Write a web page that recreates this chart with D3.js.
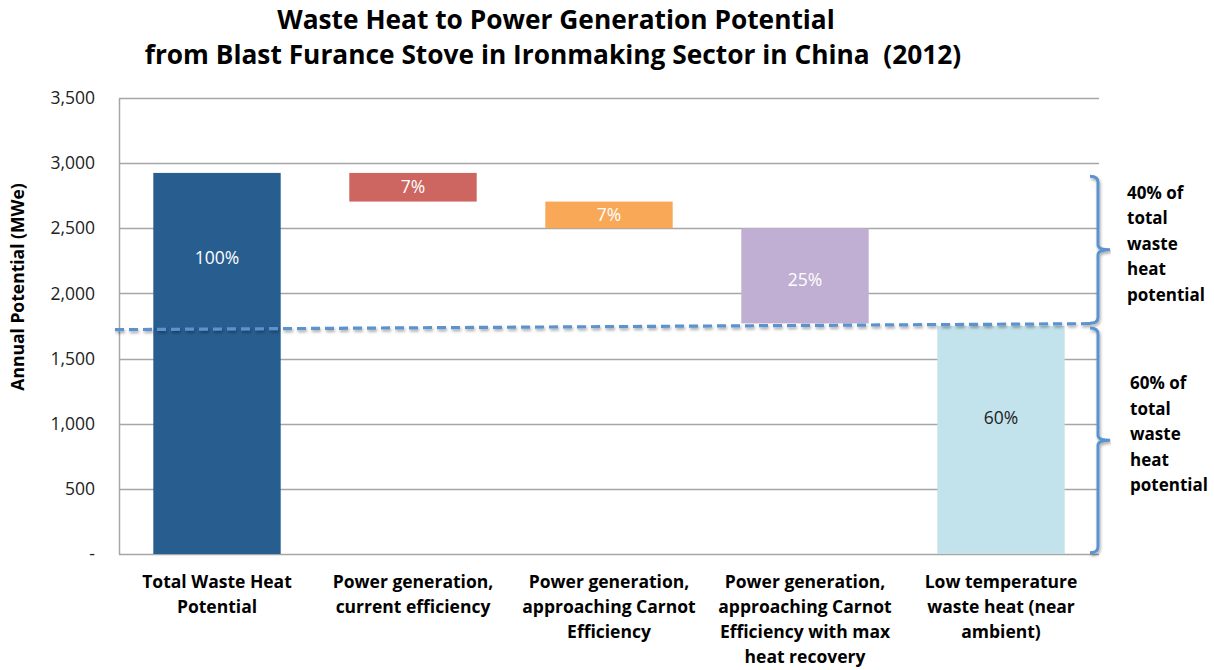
<!DOCTYPE html>
<html>
<head>
<meta charset="utf-8">
<script src="https://cdn.jsdelivr.net/npm/d3@7"></script>
<style>
  body { margin: 0; background: #fff; }
  svg { display: block; font-family: "Open Sans", Lato, sans-serif; }
</style>
</head>
<body>
<svg id="chart" width="1214" height="670"></svg>
<script>
// data
const categories = [
  ["Total Waste Heat", "Potential"],
  ["Power generation,", "current efficiency"],
  ["Power generation,", "approaching Carnot", "Efficiency"],
  ["Power generation,", "approaching Carnot", "Efficiency with max", "heat recovery"],
  ["Low temperature", "waste heat (near", "ambient)"]
];
const barBottoms = [0, 2705, 2500, 1770, 0];
const barTops = [2925, 2925, 2705, 2500, 1750];
const barLabels = ["100%", "7%", "7%", "25%", "60%"];
const labelValues = [2270, 2820, 2600, 2105, 1045];   // where the % label sits
const barColors = ["#285d8f", "#cd6660", "#f9a857", "#c0afd2", "#c3e3ec"];
const labelColors = ["#fff", "#fff", "#fff", "#fff", "#222"];
const yTicks = [0, 500, 1000, 1500, 2000, 2500, 3000, 3500];
const dashLine = [1722, 1768];            // left / right value of dashed divider
const braceSpans = [[1772, 2900], [10, 1735]];
const braceTexts = [
  ["40% of", "total", "waste", "heat", "potential"],
  ["60% of", "total", "waste", "heat", "potential"]
];

const margin = { left: 119, right: 115, top: 98, bottom: 116 };
const W = 1214, H = 670;

const svg = d3.select("#chart");

const x = d3.scaleBand()
  .domain(d3.range(categories.length))
  .range([margin.left, W - margin.right])
  .paddingInner(0.35)
  .paddingOuter(0.175);

const y = d3.scaleLinear()
  .domain([0, 3500])
  .range([H - margin.bottom, margin.top]);

// titulok
const title = svg.append("text")
  .attr("text-anchor", "middle")
  .attr("font-weight", "bold")
  .attr("font-size", 26.3)
  .style("white-space", "pre")
  .attr("fill", "#000");
title.append("tspan").attr("x", 556).attr("y", 29).text("Waste Heat to Power Generation Potential");
title.append("tspan").attr("x", 553).attr("y", 64).text("from Blast Furance Stove in Ironmaking Sector in China  (2012)");

// mriežka
svg.append("g")
  .selectAll("line")
  .data(yTicks)
  .join("line")
  .attr("x1", margin.left)
  .attr("x2", W - margin.right)
  .attr("y1", d => Math.round(y(d)) + 0.5)
  .attr("y2", d => Math.round(y(d)) + 0.5)
  .attr("stroke", "#a6a6a6")
  .attr("stroke-width", 1.3);

// os Y
const yAxis = d3.axisLeft(y)
  .tickValues(yTicks)
  .tickSize(0)
  .tickPadding(24)
  .tickFormat(d => d === 0 ? "-" : d3.format(",")(d));

svg.append("g")
  .attr("transform", `translate(${margin.left},0)`)
  .call(yAxis)
  .call(g => g.select(".domain").attr("stroke", "#a6a6a6").attr("stroke-width", 1.5))
  .call(g => g.selectAll("text")
    .attr("font-size", 17.5)
    .attr("font-family", "'Open Sans', Lato, sans-serif")
    .attr("fill", "#222"));

svg.append("text")
  .attr("transform", `translate(24,287) rotate(-90)`)
  .attr("text-anchor", "middle")
  .attr("font-weight", "bold")
  .attr("font-size", 17.5)
  .text("Annual Potential (MWe)");

// stĺpce
svg.append("g")
  .selectAll("rect")
  .data(d3.range(categories.length))
  .join("rect")
  .attr("x", i => x(i))
  .attr("width", x.bandwidth())
  .attr("y", i => y(barTops[i]))
  .attr("height", i => y(barBottoms[i]) - y(barTops[i]))
  .attr("fill", i => barColors[i]);

svg.append("g")
  .selectAll("text")
  .data(d3.range(categories.length))
  .join("text")
  .attr("x", i => x(i) + x.bandwidth() / 2)
  .attr("y", i => y(labelValues[i]) + 6)
  .attr("text-anchor", "middle")
  .attr("font-size", 17.5)
  .attr("fill", i => labelColors[i])
  .text(i => barLabels[i]);

// popisy kategórií
const xl = svg.append("g")
  .selectAll("text")
  .data(d3.range(categories.length))
  .join("text")
  .attr("text-anchor", "middle")
  .attr("font-weight", "bold")
  .attr("font-size", 17.5)
  .attr("fill", "#000");

xl.selectAll("tspan")
  .data(i => categories[i].map(t => ({ i, t })))
  .join("tspan")
  .attr("x", d => x(d.i) + x.bandwidth() / 2)
  .attr("y", (d, k) => 588 + k * 25)
  .text(d => d.t);

// prerušovaná deliaca čiara s tieňom
const defs = svg.append("defs");
const f = defs.append("filter").attr("id", "shadow").attr("x", "-5%").attr("y", "-200%").attr("width", "110%").attr("height", "500%");
f.append("feDropShadow").attr("dx", 1).attr("dy", 2).attr("stdDeviation", 1.5).attr("flood-color", "#000").attr("flood-opacity", 0.35);

svg.append("line")
  .attr("x1", margin.left - 4)
  .attr("x2", W - margin.right - 4)
  .attr("y1", y(dashLine[0]))
  .attr("y2", y(dashLine[1]))
  .attr("stroke", "#5b93cf")
  .attr("stroke-width", 3.2)
  .attr("stroke-dasharray", "9,5")
  .attr("filter", "url(#shadow)");

// zložené zátvorky
const bx = W - margin.right - 1;
function bracePath(v0, v1) {
  const yt = y(v1), yb = y(v0), ym = (yt + yb) / 2;
  return `M${bx - 8},${yt} Q${bx},${yt} ${bx},${yt + 6} L${bx},${ym - 5} Q${bx},${ym} ${bx + 12},${ym}` +
    ` Q${bx},${ym} ${bx},${ym + 5} L${bx},${yb - 6} Q${bx},${yb} ${bx - 8},${yb}`;
}

svg.append("g")
  .selectAll("path")
  .data(braceSpans)
  .join("path")
  .attr("d", d => bracePath(d[0], d[1]))
  .attr("fill", "none")
  .attr("stroke", "#5b93cf")
  .attr("stroke-width", 3)
  .attr("filter", "url(#shadow)");

const bt = svg.append("g")
  .selectAll("text")
  .data(braceSpans)
  .join("text")
  .attr("font-weight", "bold")
  .attr("font-size", 17)
  .attr("fill", "#000");

bt.selectAll("tspan")
  .data((d, i) => braceTexts[i].map(t => ({ t, d, i })))
  .join("tspan")
  .attr("x", d => d.i === 0 ? 1127 : 1130)
  .attr("y", (d, k) => (y(d.d[0]) + y(d.d[1])) / 2 - 51 + k * 25.5)
  .text(d => d.t);
</script>
</body>
</html>
